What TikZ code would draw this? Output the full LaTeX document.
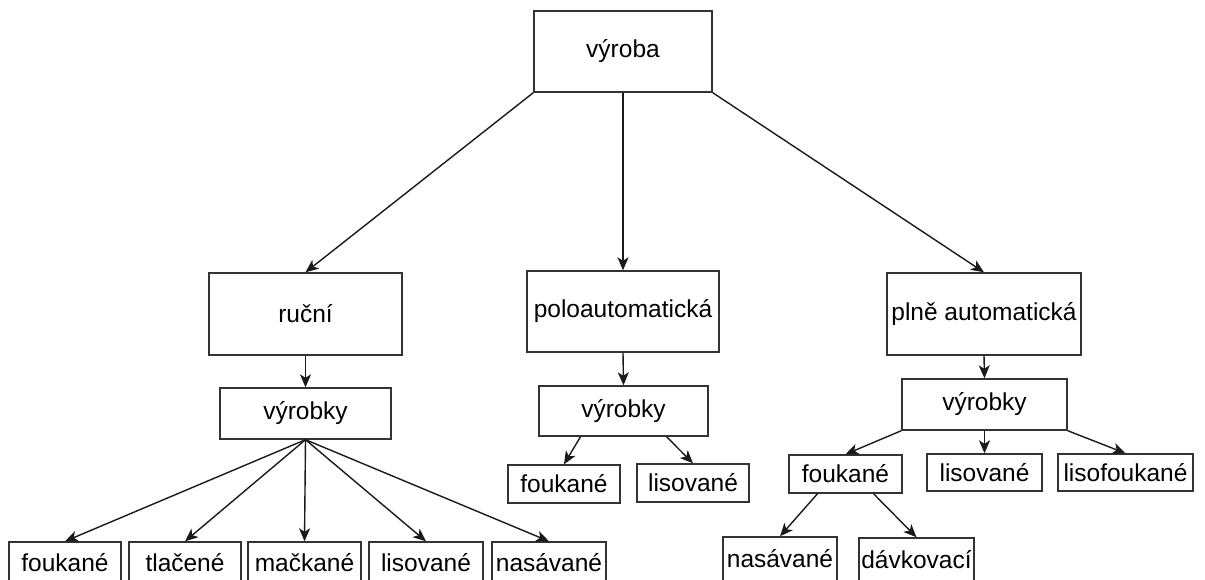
\documentclass[tikz,border=0pt]{standalone}
\usepackage{fontspec}
\setmainfont{Liberation Sans}
\usetikzlibrary{arrows.meta}
\definecolor{edgecol}{HTML}{1A1A1A}
\definecolor{boxcol}{HTML}{333333}
\tikzset{
  box/.style={draw=boxcol, line width=1.4pt, fill=white, inner sep=0pt,
    font=\fontsize{24.5}{28}\selectfont, text=black},
  link/.style={draw=edgecol, line width=1.4pt,
    -{Stealth[length=13pt,width=11pt,inset=3.5pt]}}
}
\begin{document}
\begin{tikzpicture}[x=1pt,y=-1pt]
\useasboundingbox (0,0) rectangle (1205,579);
\fill[white] (0,0) rectangle (1205,579);

% top level
\node[box, minimum width=178pt, minimum height=81pt] (vyroba) at (623,51.5) {výroba};

% second level
\node[box, minimum width=193pt, minimum height=82pt] (rucni) at (305.5,314) {ruční};
\node[box, minimum width=192pt, minimum height=81pt] (polo) at (623,311.5) {poloautomatická};
\node[box, minimum width=194pt, minimum height=82pt] (plne) at (984,314) {plně automatická};

% product groups
\node[box, minimum width=171pt, minimum height=51pt] (vL) at (305.5,413.5) {výrobky};
\node[box, minimum width=169pt, minimum height=50pt] (vM) at (623.5,411) {výrobky};
\node[box, minimum width=165pt, minimum height=51pt] (vR) at (984.5,404.5) {výrobky};

% hand-made products
\node[box, minimum width=112pt, minimum height=42pt] (fL1) at (65,563) {foukané};
\node[box, minimum width=112pt, minimum height=42pt] (fL2) at (185,563) {tlačené};
\node[box, minimum width=113pt, minimum height=42pt] (fL3) at (304.5,563) {mačkané};
\node[box, minimum width=114pt, minimum height=42pt] (fL4) at (426,563) {lisované};
\node[box, minimum width=114pt, minimum height=42pt] (fL5) at (549,563) {nasávané};

% semi-automatic products
\node[box, minimum width=112pt, minimum height=38pt] (fM1) at (564,484) {foukané};
\node[box, minimum width=112pt, minimum height=38pt] (fM2) at (693,483) {lisované};

% fully automatic products
\node[box, minimum width=113pt, minimum height=38pt] (fR1) at (845.5,474) {foukané};
\node[box, minimum width=115pt, minimum height=37pt] (fR2) at (984.5,472.5) {lisované};
\node[box, minimum width=135pt, minimum height=37pt] (fR3) at (1125.5,472.5) {lisofoukané};
\node[box, minimum width=114pt, minimum height=44pt] (nR1) at (780,559) {nasávané};
\node[box, minimum width=115pt, minimum height=44pt] (nR2) at (916.5,560) {dávkovací};

% connectors
\draw[link] (vyroba.south west) -- (rucni.north);
\draw[link] (vyroba.south) -- (polo.north);
\draw[link] (vyroba.south east) -- (plne.north);

\draw[link] (rucni.south) -- (vL.north);
\draw[link] (polo.south) -- (vM.north);
\draw[link] (plne.south) -- (vR.north);

\foreach \t in {fL1,fL2,fL3,fL4,fL5}
  \draw[link] (vL.south) -- (\t.north);

\draw[link] ([xshift=-43pt]vM.south) -- (fM1.north);
\draw[link] ([xshift=43pt]vM.south) -- (fM2.north);

\draw[link] (vR.south west) -- (fR1.north);
\draw[link] (vR.south) -- (fR2.north);
\draw[link] (vR.south east) -- (fR3.north);

\draw[link] ([xshift=-28pt]fR1.south) -- (nR1.north);
\draw[link] ([xshift=28pt]fR1.south) -- (nR2.north);
\end{tikzpicture}
\end{document}
